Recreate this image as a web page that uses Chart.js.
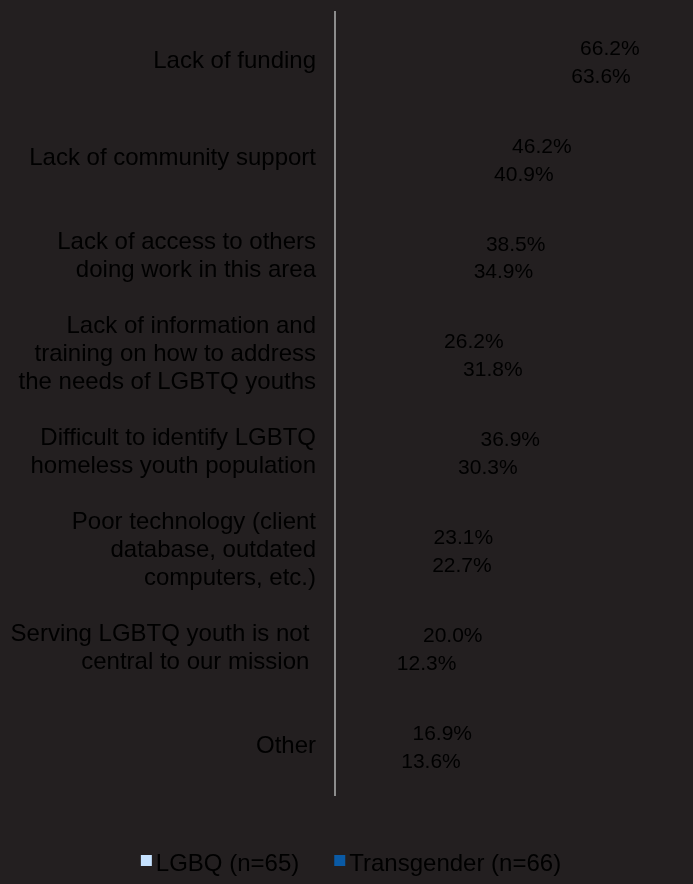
<!DOCTYPE html>
<html lang="en">
<head>
    <meta charset="UTF-8" />
    <title>Barriers</title>
    <style>
        html, body {
            margin: 0;
            padding: 0;
            background: #231f20;
        }
        #chart-container {
            width: 693px;
            height: 884px;
        }
    </style>
    <script src="https://cdn.jsdelivr.net/npm/chart.js"></script>
</head>
<body>
<div id="chart-container">
    <canvas id="barChart"></canvas>
</div>

<script>
  const categories = [
    "Lack of funding",
    "Lack of community support",
    ["Lack of access to others", "doing work in this area"],
    ["Lack of information and", "training on how to address", "the needs of LGBTQ youths"],
    ["Difficult to identify LGBTQ", "homeless youth population"],
    ["Poor technology (client", "database, outdated", "computers, etc.)"],
    ["Serving LGBTQ youth is not ", "central to our mission "],
    "Other"
  ];
  const lgbqValues = [66.2, 46.2, 38.5, 26.2, 36.9, 23.1, 20.0, 16.9];
  const transValues = [63.6, 40.9, 34.9, 31.8, 30.3, 22.7, 12.3, 13.6];
  const seriesNames = ["LGBQ (n=65)", "Transgender (n=66)"];
  const legendColors = ["#c6e2ff", "#0a5aa5"];

  const FONT = '"Liberation Sans", Arial, Helvetica, sans-serif';

  // percent labels just past the end of each (invisible) bar
  const valueLabels = {
    id: "valueLabels",
    afterDatasetsDraw(chart) {
      const ctx = chart.ctx;
      ctx.save();
      ctx.font = "21px " + FONT;
      ctx.fillStyle = "#000";
      ctx.textAlign = "left";
      ctx.textBaseline = "middle";
      chart.data.datasets.forEach((ds, i) => {
        chart.getDatasetMeta(i).data.forEach((bar, j) => {
          ctx.fillText(ds.data[j].toFixed(1) + "%", bar.x + 20, bar.y + 2);
        });
      });
      ctx.restore();
    }
  };

  // legend with the small coloured squares hugging the text
  const bottomLegend = {
    id: "bottomLegend",
    afterDraw(chart) {
      const ctx = chart.ctx;
      ctx.save();
      ctx.font = "24px " + FONT;
      ctx.textBaseline = "middle";
      ctx.textAlign = "left";
      const box = 11, gap = 4, between = 35;
      const widths = seriesNames.map((s) => ctx.measureText(s).width);
      const total = widths.reduce((a, w) => a + box + gap + w, 0) + between;
      let x = 351 - total / 2;
      const y = 864;
      seriesNames.forEach((name, i) => {
        ctx.fillStyle = legendColors[i];
        ctx.fillRect(x, y - 9, box, box);
        x += box + gap;
        ctx.fillStyle = "#000";
        ctx.fillText(name, x, y);
        x += widths[i] + between;
      });
      ctx.restore();
    }
  };

  const ctx = document.getElementById("barChart").getContext("2d");
  new Chart(ctx, {
    type: "bar",
    data: {
      labels: categories,
      datasets: [
        {
          label: seriesNames[0],
          data: lgbqValues,
          backgroundColor: "rgba(0,0,0,0)",
        },
        {
          label: seriesNames[1],
          data: transValues,
          backgroundColor: "rgba(0,0,0,0)",
        },
      ],
    },
    options: {
      indexAxis: "y",
      responsive: true,
      maintainAspectRatio: false,
      animation: false,
      layout: {
        padding: { top: 12, bottom: 89, left: 0, right: 18 },
      },
      datasets: {
        bar: {
          categoryPercentage: 0.571,
          barPercentage: 1,
        },
      },
      scales: {
        x: {
          display: false,
          min: 0,
          max: 100,
        },
        y: {
          afterFit: function (scale) {
            scale.width = 335;
            scale.paddingTop = 0;
            scale.paddingBottom = 0;
          },
          grid: { display: false },
          border: { display: true, color: "#8c8c8c", width: 2 },
          ticks: {
            color: "#000",
            padding: 11,
            font: { family: FONT, size: 24, lineHeight: 1.167 },
          },
        },
      },
      plugins: {
        legend: { display: false },
        tooltip: { enabled: false },
      },
    },
    plugins: [valueLabels, bottomLegend],
  });
</script>
</body>
</html>
